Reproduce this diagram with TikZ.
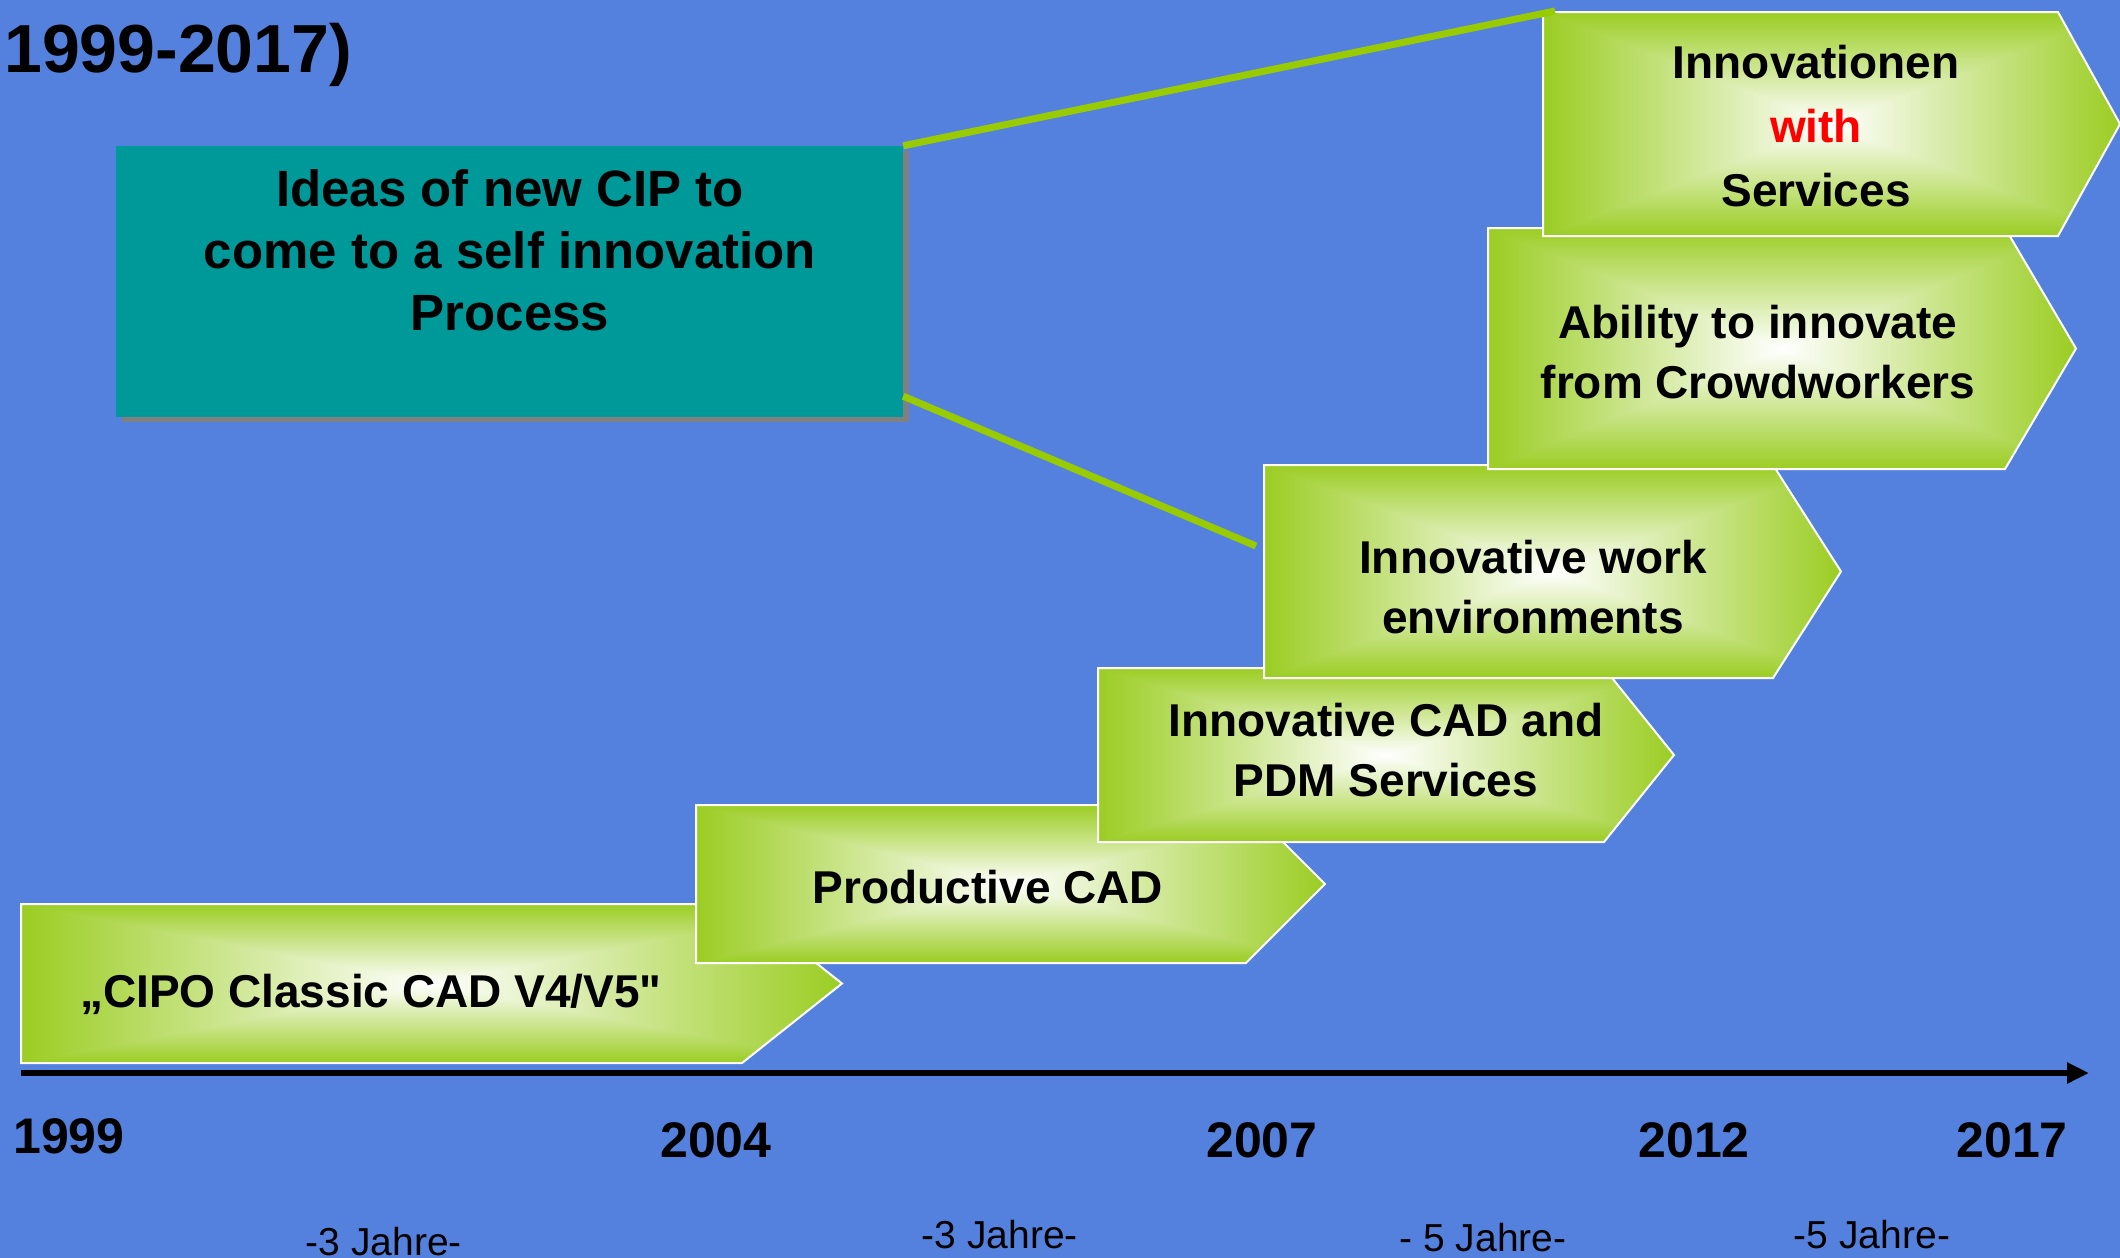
\documentclass[tikz,border=0pt]{standalone}
\usepackage{fontspec}
\setmainfont{Liberation Sans}[Ligatures=TeXOff]
\usetikzlibrary{arrows.meta,shadows}
\definecolor{bgblue}{RGB}{84,129,221}
\definecolor{tealbox}{RGB}{0,153,153}
\definecolor{limeline}{RGB}{153,204,0}
\definecolor{shadowgrey}{RGB}{128,128,128}
\pgfdeclarefunctionalshading{chevshade}{\pgfpointorigin}{\pgfpoint{100bp}{100bp}}{}{
 50 sub abs 25 div exch 50 sub abs 25 div 2 copy lt {exch} if pop
 dup 1 gt {pop 1} if
 dup dup 0.392 mul 1 exch sub 3 1 roll 0.196 mul 1 exch sub exch 0.863 mul 1 exch sub
}
% left, top, bottom, body right, tip
\newcommand\chevpath[5]{%
  \path[chev] (#1,#2) -- (#4,#2) -- (#5,{(#2+#3)/2}) -- (#4,#3) -- (#1,#3) -- cycle;}
\begin{document}
\begin{tikzpicture}[x=1pt,y=-1pt,
  chev/.style={shade, shading=chevshade, draw=white, line width=2pt, line join=miter},
  lbl/.style={font=\bfseries\fontsize{46}{60}\selectfont, align=center, inner sep=0pt, anchor=base},
  year/.style={font=\bfseries\fontsize{50}{60}\selectfont, inner sep=0pt, anchor=base},
  span/.style={font=\fontsize{39}{46}\selectfont, inner sep=0pt, anchor=base},
  ideabox/.style={fill=tealbox, minimum width=787pt, minimum height=271pt, inner sep=0pt,
     drop shadow={shadow xshift=6pt, shadow yshift=-5pt, fill=shadowgrey, opacity=1}},
  ideatext/.style={font=\bfseries\fontsize{51}{62}\selectfont, align=center, inner sep=0pt, anchor=base},
  conn/.style={draw=limeline, line width=7pt},
  axis/.style={draw=black, line width=6pt, -{Triangle[length=22pt,width=20pt]}}]
\path[fill=bgblue, use as bounding box] (0,0) rectangle (2120,1258);

% title
\node[font=\bfseries\fontsize{68}{80}\selectfont, inner sep=0pt, anchor=base west] (title) at (4,72) {1999-2017)};

% idea box (text anchored at its last baseline)
\node[ideabox] (idea) at (509.5,281.5) {};
\node[ideatext] (ideat) at (510,330) {Ideas of new CIP to\\come to a self innovation\\Process};

% chevrons (oldest first, newer on top)
\chevpath{21}{904}{1063}{742}{842}
\node[lbl] (cipo) at (371,1007) {„CIPO Classic CAD V4/V5"};
\chevpath{696}{805}{963}{1246}{1325}
\node[lbl] (prod) at (988,903) {Productive CAD};
\chevpath{1098}{668}{842}{1604}{1674}
\node[lbl] (cad) at (1386,796) {Innovative CAD and\\PDM Services};
\chevpath{1264}{465}{678}{1773}{1841}
\node[lbl] (work) at (1533,633) {Innovative work\\environments};
\chevpath{1488}{228}{469}{2005}{2076}
\node[lbl] (crowd) at (1758,398) {Ability to innovate\\from Crowdworkers};
\chevpath{1543}{12}{236}{2058}{2120}
\node[lbl, font=\bfseries\fontsize{46}{64}\selectfont] (serv) at (1816,206) {Innovationen\\\textcolor{red}{with}\\Services};

% axis
\coordinate (axstart) at (21,1073);
\coordinate (axend) at (2089,1073);
\draw[axis] (axstart) -- (axend);

% years
\node[year] (y1999) at (69,1153) {1999};
\node[year] (y2004) at (716,1157) {2004};
\node[year] (y2007) at (1262,1157) {2007};
\node[year] (y2012) at (1694,1157) {2012};
\node[year] (y2017) at (2012,1157) {2017};

% spans
\node[span] (s1) at (384,1255) {-3 Jahre-};
\node[span] (s2) at (1000,1248) {-3 Jahre-};
\node[span] (s3) at (1483,1251) {- 5 Jahre-};
\node[span] (s4) at (1872,1248) {-5 Jahre-};

% connectors
\coordinate (c1) at (1555,11);
\coordinate (c2) at (1256,546);
\draw[conn] (idea.north east) -- (c1);
\draw[conn] ([yshift=21pt]idea.south east) -- (c2);
\end{tikzpicture}
\end{document}
